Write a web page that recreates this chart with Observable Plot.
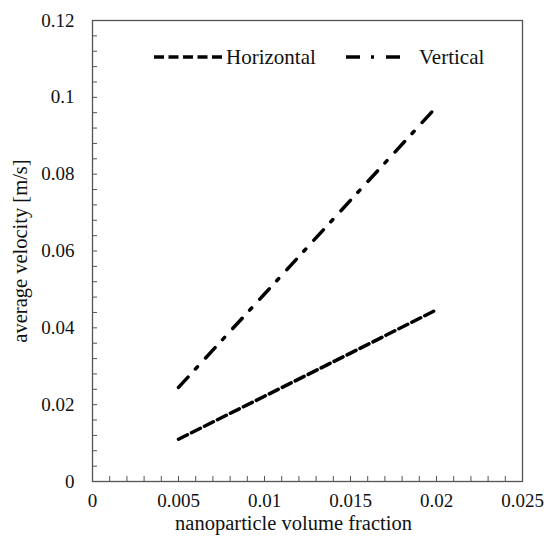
<!DOCTYPE html>
<html><head><meta charset="utf-8">
<script src="https://cdn.jsdelivr.net/npm/d3@7"></script>
<script src="https://cdn.jsdelivr.net/npm/@observablehq/plot@0.6"></script>
<style>body{margin:0;background:#fff;overflow:hidden}
svg text{font-family:"Liberation Serif","DejaVu Serif","Times New Roman",serif !important;}</style>
</head><body><div id="chart"></div>
<script>
const fractions = [0.005, 0.01, 0.015, 0.02];
const horizontal = [0.011, 0.0222, 0.0334, 0.0447];
const vertical = [0.0245, 0.0488, 0.0732, 0.0975];
const seriesNames = ["Horizontal", "Vertical"];
const xTicks = [0, 0.005, 0.01, 0.015, 0.02, 0.025];
const yTicks = [0, 0.02, 0.04, 0.06, 0.08, 0.1, 0.12];
const xLabel = "nanoparticle volume fraction";
const yLabel = "average velocity [m/s]";

const xMinor = d3.range(26).map(i => i * 0.001);
const yMinor = d3.range(31).map(i => i * 0.004);
const rows = fractions.flatMap((f, i) => [
  {x: f, y: horizontal[i], s: seriesNames[0]},
  {x: f, y: vertical[i], s: seriesNames[1]}
]);
const dashes = {Horizontal: "10,4.5", Vertical: "14,11,3,12"};
const font = '"Liberation Serif", "DejaVu Serif", serif';
const gray = "#555";

const plot = Plot.plot({
  width: 547, height: 542,
  marginLeft: 92, marginRight: 25, marginTop: 20, marginBottom: 61,
  style: {fontFamily: font, fontSize: "19px", color: "#111", background: "#fff"},
  x: {domain: [0, 0.025]},
  y: {domain: [0, 0.12]},
  marks: [
    Plot.axisX({ticks: xMinor, tickSize: 5, dy: -5, tickFormat: () => "", label: null, stroke: gray}),
    Plot.axisY({ticks: yMinor, tickSize: 5, dx: 5, tickFormat: () => "", label: null, stroke: gray}),
    Plot.axisX({ticks: xTicks, tickSize: 0, tickPadding: 12, tickFormat: d => String(d), label: null, fontSize: 19}),
    Plot.axisY({ticks: yTicks, tickSize: 0, tickPadding: 18, tickFormat: d => String(d), label: null, fontSize: 19}),
    Plot.frame({stroke: gray, strokeWidth: 1.3}),
    ...seriesNames.map(name => Plot.line(rows.filter(r => r.s === name), {
      x: "x", y: "y", stroke: "#000", strokeWidth: 3.5, strokeDasharray: dashes[name]
    })),
    Plot.text([xLabel], {frameAnchor: "bottom", dy: 48, dx: -14, fontSize: 20.5, fill: "#111"}),
    Plot.text([yLabel], {frameAnchor: "left", textAnchor: "middle", dx: -72, rotate: -90, fontSize: 20.5, fill: "#111"})
  ]
});
document.getElementById("chart").appendChild(plot);

// legend inside plot area
const svg = d3.select(plot);
const legendItems = [
  {name: seriesNames[0], x1: 154, x2: 223, tx: 226},
  {name: seriesNames[1], x1: 346, x2: 401, tx: 419}
];
const lg = svg.append("g").attr("font-size", 21).attr("text-anchor", "start");
legendItems.forEach(it => {
  lg.append("line").attr("x1", it.x1).attr("x2", it.x2).attr("y1", 57).attr("y2", 57)
    .attr("stroke", "#000").attr("stroke-width", 3.5).attr("stroke-dasharray", dashes[it.name]);
  lg.append("text").attr("x", it.tx).attr("y", 64).attr("fill", "#111").text(it.name);
});
</script>
</body></html>
